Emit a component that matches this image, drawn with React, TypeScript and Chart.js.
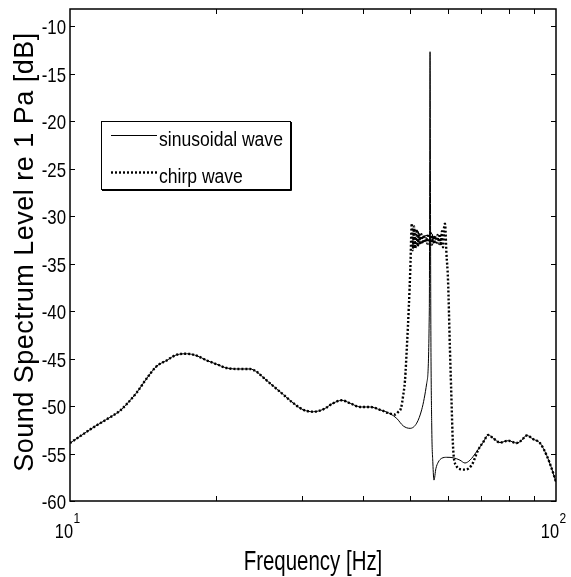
import React, { useEffect, useRef } from "react";
import { Chart, registerables } from "chart.js";
Chart.register(...registerables);

// ---- data ----
const sineFreq = [
  10.0, 10.48, 11.17, 11.9, 12.67, 13.08, 13.71, 14.38, 15.08, 15.81, 16.58, 17.38, 18.23, 19.11, 20.04,
  21.01, 22.38, 23.47, 24.22, 24.99, 26.2, 27.48, 28.81, 30.2, 31.67, 33.2, 34.81, 36.23, 37.69, 39.52,
  41.43, 43.44, 45.54, 47.01, 48.51, 50.08, 51.69, 52.92, 54.2, 54.87, 55.06, 55.25, 55.5, 55.8, 56.1,
  56.6, 57.26, 58.19, 59.58, 61.47, 63.45, 64.97, 66.53, 68.67, 70.85, 72.55, 74.3, 76.7, 79.76, 83.0,
  85.0, 87.04, 89.8, 92.7, 95.68, 97.99, 100.0,
];
const sineLevel = [
  -53.9, -53.2, -52.25, -51.4, -50.5, -49.8, -48.6, -47.1, -45.8, -45.2, -44.6, -44.5, -44.7, -45.2, -45.6,
  -46.0, -46.1, -46.1, -46.4, -47.0, -47.9, -48.8, -49.7, -50.4, -50.6, -50.35, -49.7, -49.4, -49.7, -50.1,
  -50.1, -50.4, -50.8, -51.3, -52.1, -52.35, -51.8, -50.4, -47.6, -39.9, -12.7, -40.0, -52.0, -56.0, -57.8,
  -56.6, -55.9, -55.5, -55.4, -55.45, -55.7, -56.0, -55.7, -54.8, -53.8, -53.05, -53.4, -53.85, -53.65, -53.9,
  -53.6, -53.1, -53.5, -53.9, -55.2, -56.6, -58.0,
];

const chirpFreq = [
  10.0, 10.48, 11.17, 11.9, 12.67, 13.08, 13.71, 14.38, 15.08, 15.81, 16.58, 17.38, 18.23, 19.11, 20.04,
  21.01, 22.38, 23.47, 24.22, 24.99, 26.2, 27.48, 28.81, 30.2, 31.67, 33.2, 34.81, 36.23, 37.69, 39.52,
  41.43, 43.44, 45.54, 46.64, 47.4, 48.0, 48.44, 48.9, 49.37, 49.8, 50.15,
  50.5, 50.75, 51.05, 51.35, 51.65, 51.95, 52.25, 52.55, 52.85, 53.15, 53.45, 53.75, 54.05, 54.35, 54.65,
  54.95, 55.25, 55.55, 55.85, 56.15, 56.45, 56.75, 57.05, 57.35, 57.65, 57.95, 58.25, 58.55, 58.85, 59.11,
  59.5, 59.95, 60.5, 61.0, 61.3, 61.6, 62.4, 63.0, 65.0, 67.1, 69.2,
  70.85, 72.55, 74.3, 76.7, 79.76, 83.0, 85.0, 87.04, 89.8, 92.7, 95.68, 97.99, 100.0,
];
const chirpLevel = [
  -53.9, -53.2, -52.25, -51.4, -50.5, -49.8, -48.6, -47.1, -45.8, -45.2, -44.6, -44.5, -44.7, -45.2, -45.6,
  -46.0, -46.1, -46.1, -46.4, -47.0, -47.9, -48.8, -49.7, -50.4, -50.6, -50.35, -49.7, -49.4, -49.7, -50.1,
  -50.1, -50.4, -50.8, -50.9, -50.6, -50.2, -49.0, -47.3, -43.5, -39.5, -35.5,
  -30.8, -33.6, -31.1, -33.4, -31.4, -33.2, -31.7, -33.0, -31.9, -32.9, -32.0, -32.8, -32.1, -32.9, -31.9,
  -33.0, -31.8, -33.0, -32.0, -32.9, -32.1, -32.8, -32.0, -32.9, -31.9, -33.1, -31.6, -33.3, -31.2, -30.8,
  -33.9, -36.7, -44.0, -50.0, -53.5, -55.3, -56.3, -56.6, -56.7, -56.2, -54.6,
  -53.8, -53.05, -53.4, -53.85, -53.65, -53.9, -53.6, -53.1, -53.5, -53.9, -55.2, -56.6, -58.0,
];

const seriesNames = ["sinusoidal wave", "chirp wave"];
const yTicks = [-10, -15, -20, -25, -30, -35, -40, -45, -50, -55, -60];
const xMajorTicks = [10, 100];
const xMajorBase = ["10", "10"];
const xMajorExp = ["1", "2"];
const xMinorTicks = [20, 30, 40, 50, 60, 70, 80, 90];
const xTitle = "Frequency [Hz]";
const yTitle = "Sound Spectrum Level re 1 Pa [dB]";

const FONT = '"Liberation Sans", Arial, sans-serif';

function drawText(
  ctx: CanvasRenderingContext2D,
  s: string,
  x: number,
  y: number,
  size: number,
  align: CanvasTextAlign,
  hs: number
) {
  ctx.save();
  ctx.translate(x, y);
  ctx.scale(hs, 1);
  ctx.font = `${size}px ${FONT}`;
  ctx.textAlign = align;
  ctx.textBaseline = "alphabetic";
  ctx.fillStyle = "#000";
  ctx.fillText(s, 0, 0);
  ctx.restore();
}

const decorPlugin = {
  id: "decor",
  afterDraw(chart: any) {
    const ctx: CanvasRenderingContext2D = chart.ctx;
    const { left, right, top, bottom } = chart.chartArea;
    const xs = chart.scales.x;
    const ys = chart.scales.y;
    ctx.save();
    ctx.strokeStyle = "#000";
    ctx.lineWidth = 1.5;
    ctx.setLineDash([]);
    ctx.strokeRect(left, top, right - left, bottom - top);

    // inward tick marks
    ctx.lineWidth = 1;
    ctx.beginPath();
    yTicks.forEach((v) => {
      const y = Math.round(ys.getPixelForValue(v)) + 0.5;
      ctx.moveTo(left, y);
      ctx.lineTo(left + 5, y);
      ctx.moveTo(right, y);
      ctx.lineTo(right - 5, y);
    });
    xMinorTicks.forEach((v) => {
      const x = Math.round(xs.getPixelForValue(v)) + 0.5;
      ctx.moveTo(x, bottom);
      ctx.lineTo(x, bottom - 5);
      ctx.moveTo(x, top);
      ctx.lineTo(x, top + 5);
    });
    ctx.stroke();

    // y tick labels
    yTicks.forEach((v) => {
      const y = ys.getPixelForValue(v);
      drawText(ctx, String(v), left - 4, y + 8, 21, "right", 0.8);
    });
    // x tick labels with exponent
    xMajorTicks.forEach((v, i) => {
      const x = xs.getPixelForValue(v);
      drawText(ctx, xMajorBase[i], x + 3, bottom + 37, 21, "right", 0.78);
      drawText(ctx, xMajorExp[i], x + 3.5, bottom + 22, 15, "left", 0.8);
    });

    // axis titles
    drawText(ctx, xTitle, (left + right) / 2, bottom + 69, 28, "center", 0.73);
    ctx.save();
    ctx.translate(33, (top + bottom) / 2 - 3);
    ctx.rotate(-Math.PI / 2);
    ctx.font = `27px ${FONT}`;
    (ctx as any).letterSpacing = "0.5px";
    ctx.textAlign = "center";
    ctx.textBaseline = "alphabetic";
    ctx.fillStyle = "#000";
    ctx.fillText(yTitle, 0, 0);
    ctx.restore();

    // legend
    const lx = 101, ly = 121, lw = 189, lh = 68;
    ctx.fillStyle = "#fff";
    ctx.fillRect(lx, ly, lw, lh);
    ctx.strokeStyle = "#000";
    ctx.lineWidth = 1;
    ctx.strokeRect(lx + 0.5, ly + 0.5, lw, lh);
    ctx.beginPath();
    ctx.moveTo(lx + 1, ly + lh + 1.5);
    ctx.lineTo(lx + lw + 1.5, ly + lh + 1.5);
    ctx.lineTo(lx + lw + 1.5, ly + 1);
    ctx.stroke();
    const rows = [135, 172];
    chart.data.datasets.forEach((ds: any, i: number) => {
      ctx.save();
      ctx.strokeStyle = ds.borderColor;
      ctx.lineWidth = ds.borderWidth;
      ctx.setLineDash(ds.borderDash || []);
      ctx.beginPath();
      ctx.moveTo(111, rows[i] + 0.5);
      ctx.lineTo(157, rows[i] + 0.5);
      ctx.stroke();
      ctx.restore();
      drawText(ctx, seriesNames[i], 159, rows[i] + 10.5, 19.5, "left", 0.9);
    });
    ctx.restore();
  },
};

export default function App() {
  const ref = useRef<HTMLCanvasElement | null>(null);
  useEffect(() => {
    document.body.style.margin = "0";
    const canvas = ref.current;
    if (!canvas) return;
    const chart = new Chart(canvas, {
      type: "scatter",
      data: {
        datasets: [
          {
            label: seriesNames[0],
            data: sineFreq.map((f, i) => ({ x: f, y: sineLevel[i] })),
            showLine: true,
            borderColor: "#000",
            borderWidth: 1,
            pointRadius: 0,
            cubicInterpolationMode: "monotone",
          },
          {
            label: seriesNames[1],
            data: chirpFreq.map((f, i) => ({ x: f, y: chirpLevel[i] })),
            showLine: true,
            borderColor: "#000",
            borderWidth: 2.4,
            borderDash: [2, 2],
            pointRadius: 0,
            cubicInterpolationMode: "monotone",
          },
        ],
      } as any,
      options: {
        responsive: false,
        animation: false,
        devicePixelRatio: 1,
        layout: { padding: { left: 70, right: 15, top: 9, bottom: 76 } },
        plugins: { legend: { display: false }, tooltip: { enabled: false } },
        scales: {
          x: { type: "logarithmic", min: 10, max: 100, display: false },
          y: { type: "linear", min: -60, max: -8.2, display: false },
        },
      } as any,
      plugins: [decorPlugin],
    });
    return () => chart.destroy();
  }, []);
  return (
    <div style={{ width: 571, height: 577, background: "#fff" }}>
      <canvas ref={ref} width={571} height={577} style={{ display: "block" }} />
    </div>
  );
}
